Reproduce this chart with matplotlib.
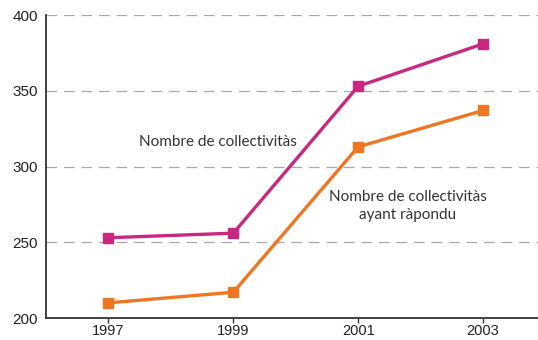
import matplotlib
matplotlib.use("Agg")
import matplotlib.pyplot as plt

years = [1997, 1999, 2001, 2003]
collectivites = [253, 256, 353, 381]
repondu = [210, 217, 313, 337]
yticks = [200, 250, 300, 350, 400]

magenta = "#C8287F"
orange = "#EE7623"

fig = plt.figure(figsize=(5.38, 3.40), dpi=100)
ax = fig.add_axes([0.0855, 0.0647, 0.9145, 0.891])

ax.plot(years, collectivites, color=magenta, lw=2.4, marker="s", ms=7.5,
        solid_joinstyle="miter", zorder=3)
ax.plot(years, repondu, color=orange, lw=2.4, marker="s", ms=7.5,
        solid_joinstyle="miter", zorder=3)

ax.set_xlim(1996.0, 2003.88)
ax.set_ylim(200, 400)
ax.set_xticks(years)
ax.set_xticklabels([str(y) for y in years])
ax.set_yticks(yticks)

for y in yticks[1:]:
    ax.axhline(y, color="#a8a8a8", lw=0.9, dashes=(8.5, 5.5), zorder=1)

for s in ["top", "right"]:
    ax.spines[s].set_visible(False)
for s in ["left", "bottom"]:
    ax.spines[s].set_color("#333333")
    ax.spines[s].set_linewidth(1.3)

ax.tick_params(axis="y", length=0, pad=6, labelsize=11, labelcolor="#222222")
ax.tick_params(axis="x", length=3.5, width=1.0, direction="out", color="#333333",
               pad=1.0, labelsize=10.5, labelcolor="#222222")
for lab in ax.get_xticklabels() + ax.get_yticklabels():
    lab.set_fontfamily("Liberation Sans")

ax.text(1998.75, 316, "Nombre de collectivitàs", ha="center", va="center",
        fontsize=11, color="#333333", family="Lato")
ax.text(2001.79, 274, "Nombre de collectivitàs\nayant ràpondu", ha="center",
        va="center", fontsize=11, color="#333333", family="Lato",
        linespacing=1.35)

fig.savefig("out.png", dpi=100)
